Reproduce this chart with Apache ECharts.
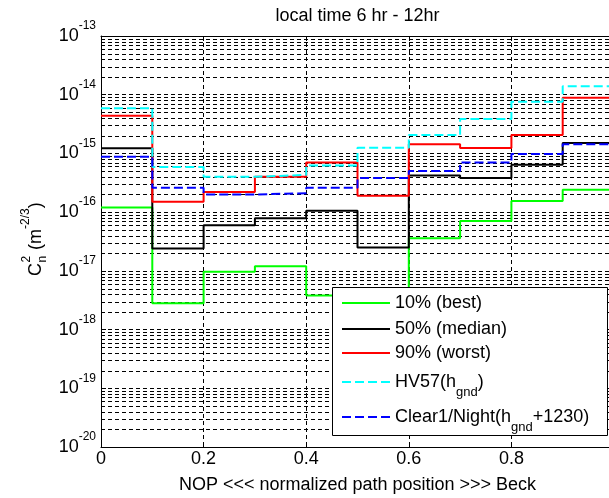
<!DOCTYPE html>
<html>
<head>
<meta charset="utf-8">
<script src="https://cdn.jsdelivr.net/npm/echarts@6/dist/echarts.min.js"></script>
<style>
  html, body { margin: 0; padding: 0; background: #fff; }
  #chart { width: 609px; height: 498px; }
</style>
</head>
<body>
<div id="chart"></div>
<script>
// Normalized path position of each segment edge (10 segments of 0.1)
const segmentEdges = [0, 0.1, 0.2, 0.3, 0.4, 0.5, 0.6, 0.7, 0.8, 0.9, 1.0];

// Cn^2 per path segment, m^(-2/3)
const best10   = [1.2e-16, 2.8e-18, 9.7e-18, 1.2e-17, 3.8e-18, 1.5e-18, 3.6e-17, 7.1e-17, 1.55e-16, 2.4e-16];
const median50 = [1.23e-15, 2.4e-17, 6.0e-17, 7.9e-17, 1.06e-16, 2.5e-17, 4.2e-16, 3.8e-16, 6.4e-16, 1.5e-15];
const worst90  = [4.4e-15, 1.5e-16, 2.2e-16, 4.0e-16, 7.0e-16, 1.9e-16, 1.43e-15, 1.24e-15, 2.06e-15, 8.9e-15];
const hv57     = [5.9e-15, 5.9e-16, 4.0e-16, 4.3e-16, 6.2e-16, 1.25e-15, 2.06e-15, 3.86e-15, 7.6e-15, 1.39e-14];
const clear1   = [8.8e-16, 2.6e-16, 2.0e-16, 2.1e-16, 2.6e-16, 3.8e-16, 5.0e-16, 7.0e-16, 9.8e-16, 1.43e-15];

const seriesNames = ['10% (best)', '50% (median)', '90% (worst)', 'HV57(h_gnd)', 'Clear1/Night(h_gnd+1230)'];
const seriesValues = [best10, median50, worst90, hv57, clear1];
const seriesColors = ['#00ff00', '#000000', '#ff0000', '#00ffff', '#0000ff'];
const seriesDashed = [false, false, false, true, true];

// Axis range and labels (the tick at 1 falls outside the page)
const xTickLabels = ['0', '0.2', '0.4', '0.6', '0.8', ''];
const yDecadeMin = -20;
const yDecadeMax = -13;
const minorMultipliers = [2, 3, 4, 5, 6, 7, 8, 9];

const FONT = "'Liberation Sans', Arial, Helvetica, sans-serif";

// Step data: each segment value held until the next edge
function stepData(vals) {
  return segmentEdges.map((x, i) => [x, vals[Math.min(i, vals.length - 1)]]);
}

// Minor log grid values (2..9 x 10^n)
const minorGridValues = [];
for (let n = yDecadeMin; n < yDecadeMax; n++) {
  minorMultipliers.forEach(k => minorGridValues.push(k * Math.pow(10, n)));
}

const gridDash = [4, 3];

const legendRich = {
  t: { fontFamily: FONT, fontSize: 18, color: '#000', lineHeight: 20, verticalAlign: 'middle' },
  s: { fontFamily: FONT, fontSize: 13, color: '#000', lineHeight: 34, verticalAlign: 'bottom' }
};
function legendText(name) {
  const parts = name.split('_gnd');
  let out = '';
  parts.forEach((p, i) => {
    if (i > 0) out += '{s|gnd}';
    if (p) out += '{t|' + p + '}';
  });
  return out;
}
const legendIconCenters = [301, 327, 351, 380, 415];

// Minor grid: one horizontal dashed line per value, drawn across the x range
const series = [{
  name: 'minor grid',
  type: 'custom',
  silent: true,
  z: 1,
  data: minorGridValues.map(v => [0, v]),
  encode: { x: 0, y: 1 },
  renderItem: (params, api) => {
    const p0 = api.coord([0, api.value(1)]);
    const p1 = api.coord([1, api.value(1)]);
    const y = Math.round(p0[1]) + 0.5;
    return {
      type: 'line',
      shape: { x1: p0[0], y1: y, x2: p1[0], y2: y },
      style: { stroke: '#000', lineWidth: 1, lineDash: gridDash, fill: null }
    };
  }
}];
seriesNames.forEach((name, i) => {
  series.push({
    name: name,
    type: 'line',
    step: 'end',
    symbol: 'none',
    data: stepData(seriesValues[i]),
    lineStyle: { color: seriesColors[i], width: 2, type: seriesDashed[i] ? [9, 4] : 'solid' },
    itemStyle: { color: seriesColors[i] },
    emphasis: { disabled: true },
    z: 2
  });
});

const chart = echarts.init(document.getElementById('chart'), null, { renderer: 'canvas' });
chart.setOption({
  animation: false,
  backgroundColor: '#fff',
  textStyle: { fontFamily: FONT },
  grid: { left: 101, top: 36, width: 513, height: 411, containLabel: false, outerBoundsMode: 'none' },
  xAxis: [{
    type: 'value', min: 0, max: 1, interval: 0.2, position: 'bottom',
    axisLine: { show: true, onZero: false, lineStyle: { color: '#000', width: 1 } },
    axisTick: { show: true, inside: true, length: 5, lineStyle: { color: '#000' } },
    axisLabel: {
      show: true, margin: 3, color: '#000', fontSize: 18, fontFamily: FONT,
      formatter: v => xTickLabels[Math.round(v / 0.2)]
    },
    splitLine: { show: true, lineStyle: { type: gridDash, color: '#000', width: 1 } },
    name: 'NOP <<< normalized path position >>> Beck',
    nameLocation: 'middle', nameGap: 29,
    nameTextStyle: { color: '#000', fontSize: 18, fontFamily: FONT }
  }, {
    type: 'value', min: 0, max: 1, interval: 0.2, position: 'top',
    axisLine: { show: true, onZero: false, lineStyle: { color: '#000', width: 1 } },
    axisTick: { show: true, inside: true, length: 5, lineStyle: { color: '#000' } },
    axisLabel: { show: false },
    splitLine: { show: false },
    name: 'local time 6 hr - 12hr',
    nameLocation: 'middle', nameGap: 11,
    nameTextStyle: { color: '#000', fontSize: 18, fontFamily: FONT }
  }],
  yAxis: {
    type: 'log', logBase: 10,
    min: Math.pow(10, yDecadeMin), max: Math.pow(10, yDecadeMax),
    splitNumber: yDecadeMax - yDecadeMin,
    axisLine: { show: true, onZero: false, lineStyle: { color: '#000', width: 1 } },
    axisTick: { show: true, inside: true, length: 5, lineStyle: { color: '#000' } },
    axisLabel: {
      show: true, margin: 5, color: '#000',
      formatter: v => '{b|10}{e|' + Math.round(Math.log10(v)) + '}',
      rich: {
        b: { fontFamily: FONT, fontSize: 18, color: '#000', lineHeight: 32, verticalAlign: 'middle' },
        e: { fontFamily: FONT, fontSize: 12, color: '#000', verticalAlign: 'top' }
      }
    },
    splitLine: { show: true, lineStyle: { type: gridDash, color: '#000', width: 1 } }
  },
  legend: seriesNames.map((name, i) => ({
    data: [name],
    orient: 'vertical',
    left: 341,
    top: legendIconCenters[i] - 7,
    itemWidth: 48,
    itemHeight: 14,
    padding: 0,
    selectedMode: false,
    itemStyle: { opacity: 0 },
    formatter: legendText,
    textStyle: { fontFamily: FONT, fontSize: 18, color: '#000', rich: legendRich }
  })),
  graphic: [{
    type: 'rect', z: 3,
    shape: { x: 332.5, y: 287.5, width: 275, height: 148 },
    style: { fill: '#fff', stroke: '#000', lineWidth: 1 }
  }, {
    type: 'group', x: 36, y: 276, rotation: Math.PI / 2, z: 5,
    children: [
      { type: 'text', x: 0, y: 0, style: { text: 'C', fontFamily: FONT, fontSize: 18, fill: '#000', verticalAlign: 'middle' } },
      { type: 'text', x: 13.5, y: -9, style: { text: '2', fontFamily: FONT, fontSize: 12, fill: '#000', verticalAlign: 'middle' } },
      { type: 'text', x: 13.5, y: 7, style: { text: 'n', fontFamily: FONT, fontSize: 12, fill: '#000', verticalAlign: 'middle' } },
      { type: 'text', x: 21, y: 0, style: {
          text: '{t| (m}{e|-2/3}{t|)}', verticalAlign: 'middle',
          rich: {
            t: { fontFamily: FONT, fontSize: 18, fill: '#000', lineHeight: 32, verticalAlign: 'middle' },
            e: { fontFamily: FONT, fontSize: 12, fill: '#000', verticalAlign: 'top' }
          }
      } }
    ]
  }],
  series: series
});
</script>
</body>
</html>
